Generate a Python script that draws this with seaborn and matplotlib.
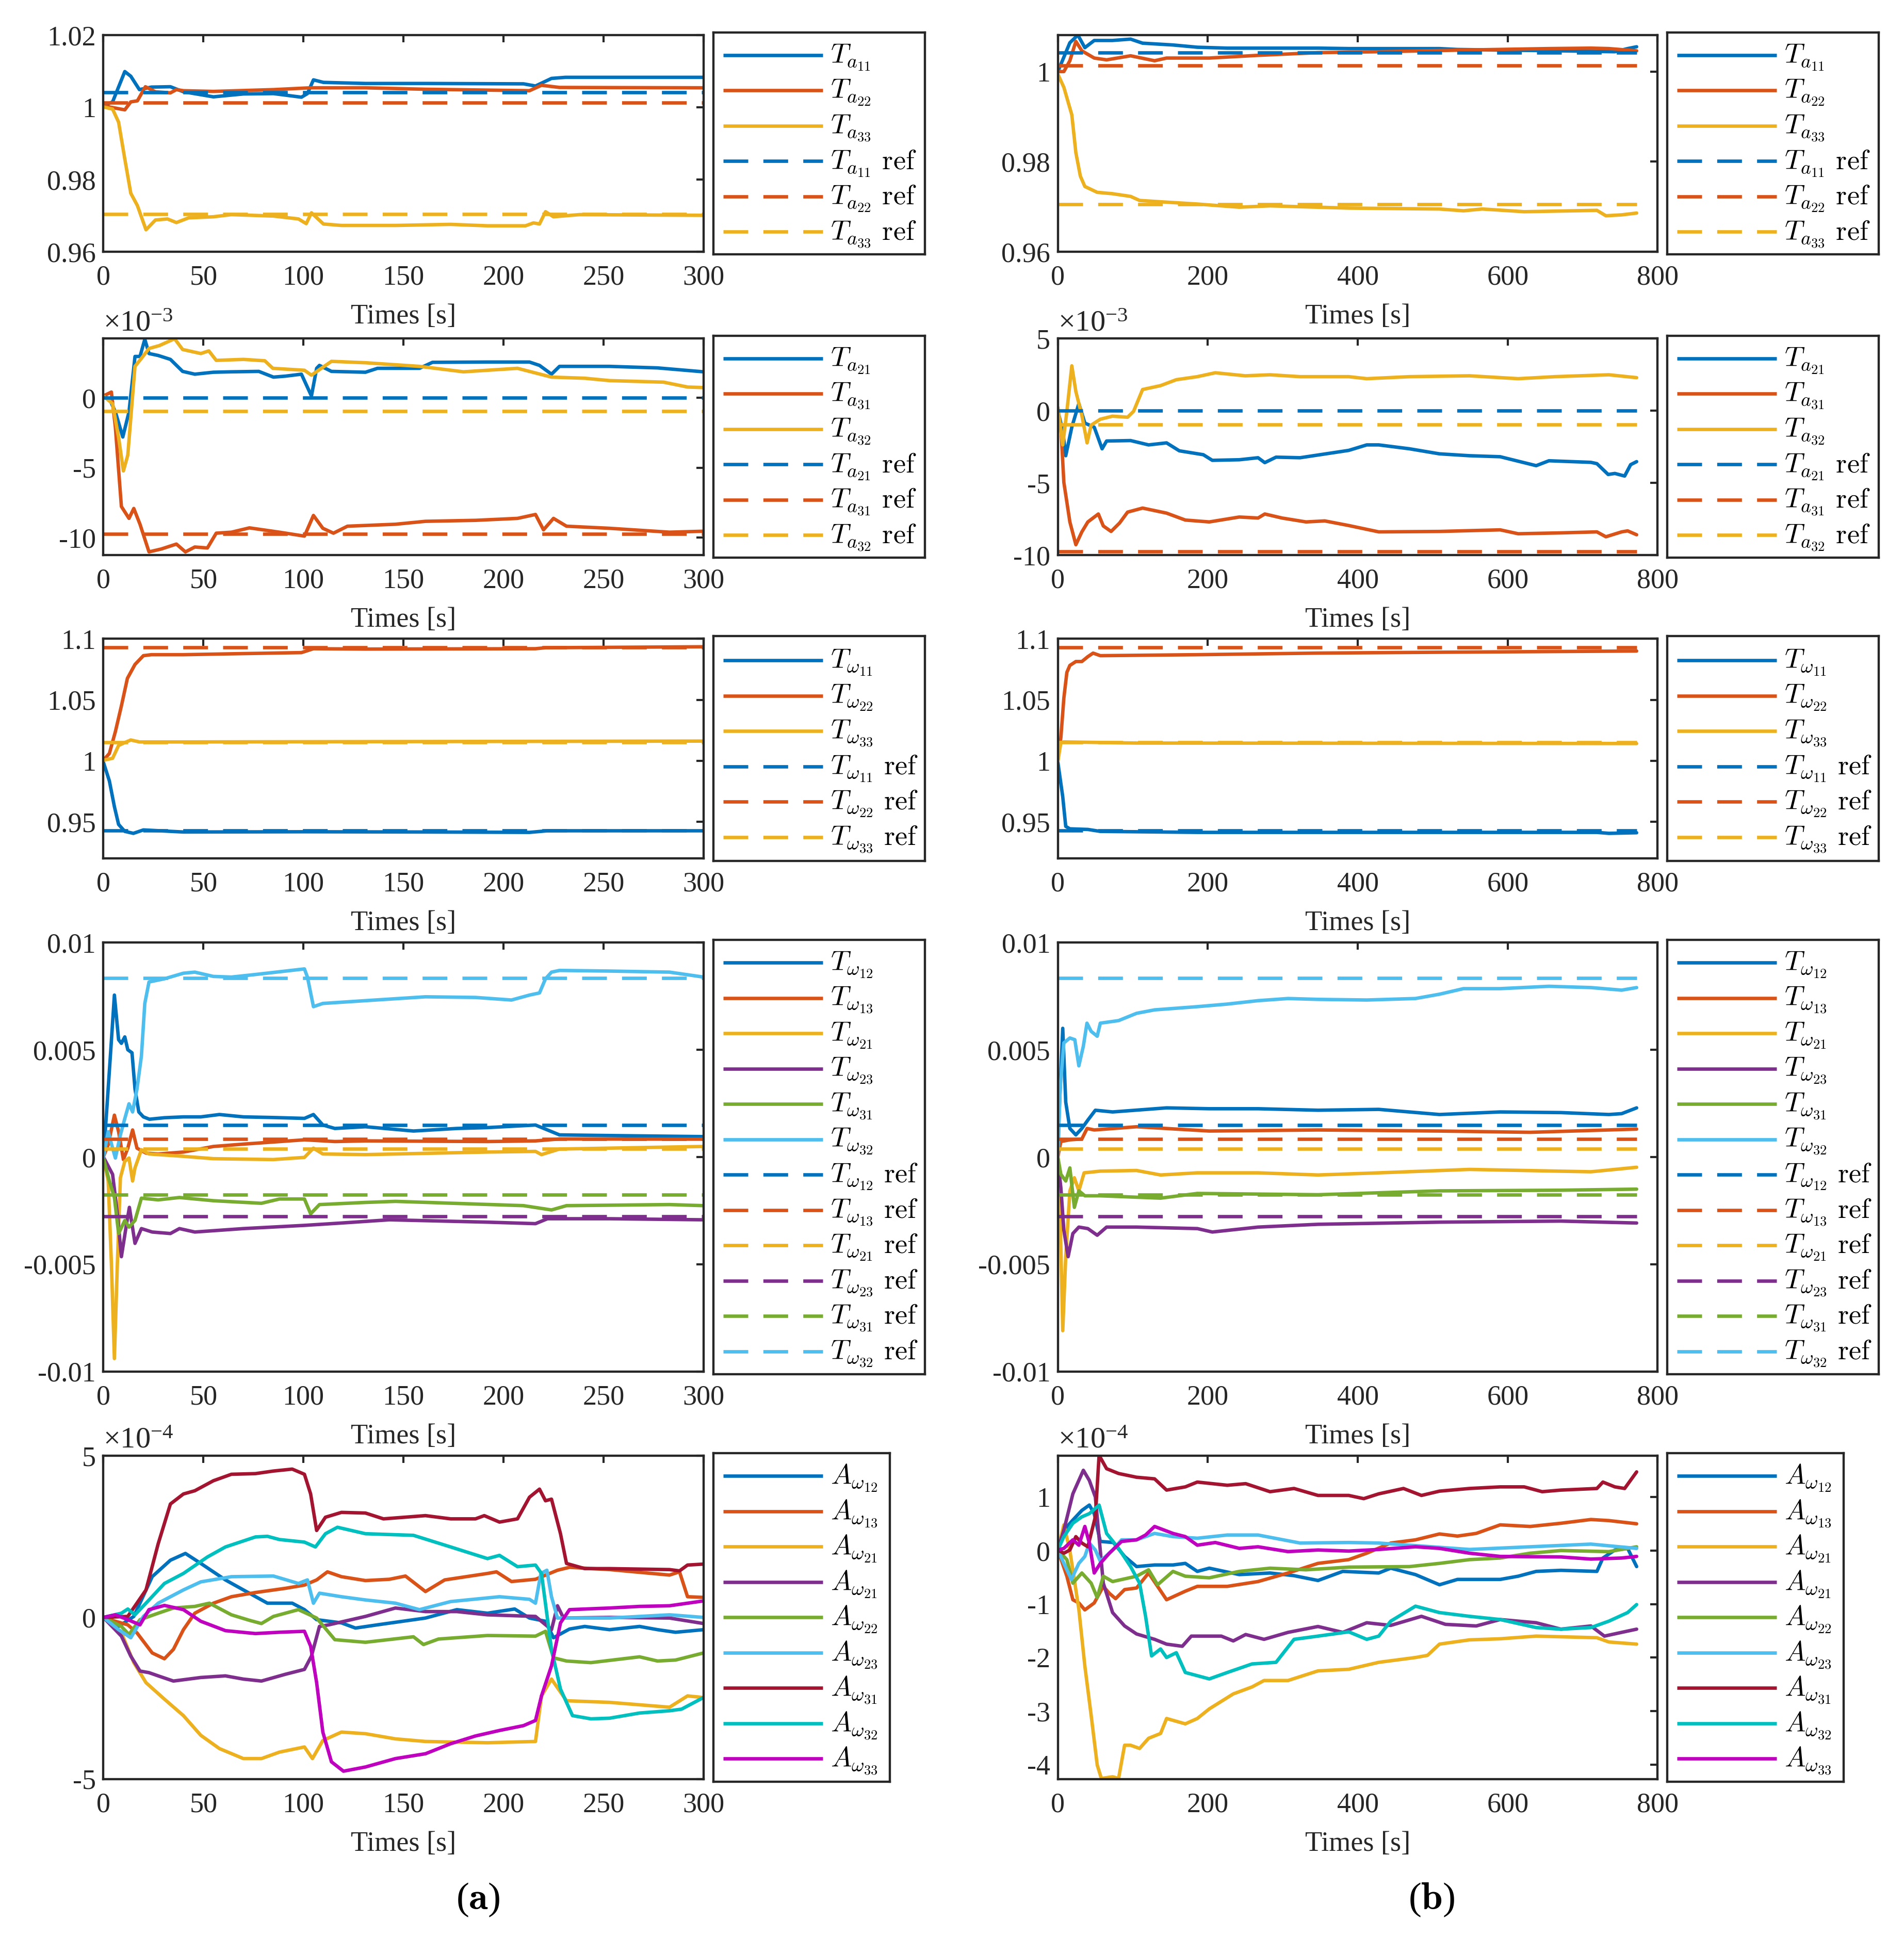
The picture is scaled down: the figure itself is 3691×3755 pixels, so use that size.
import numpy as np
import matplotlib
matplotlib.use("Agg")
import matplotlib.pyplot as plt
import seaborn as sns

# ---------------- data ----------------
T_END_A = 300
T_END_B = 772

# Row 1 : Ta diagonal
TA11_A = [(0,1.0004),(4.6,1.0015),(10.7,1.0099),(13.7,1.0086),(18,1.0049),(24,1.0056),(33.5,1.0057),(40,1.0043),(55,1.0029),(70,1.0037),(85,1.0038),(99,1.0028),(102,1.0038),(105,1.0076),(110,1.0069),(131,1.0066),(161,1.0066),(210,1.0065),(216,1.0059),(224,1.0080),(231,1.0083),(300,1.0083)]
TA22_A = [(0,1.0004),(10.7,0.9993),(13.7,1.0015),(17,1.0018),(21,1.0057),(26,1.0043),(33.5,1.004),(36.5,1.0049),(40,1.0046),(55,1.0044),(85,1.0049),(103.5,1.0054),(131,1.0054),(161,1.005),(213,1.0046),(219,1.0061),(228,1.0055),(300,1.0054)]
TA33_A = [(0,1.0001),(4.6,0.9995),(7.6,0.9959),(10.7,0.9857),(13.7,0.9762),(17,0.9728),(21.3,0.9661),(26,0.9688),(32,0.9691),(36.5,0.9681),(42.6,0.9694),(55,0.9697),(64,0.9703),(85,0.9699),(97.5,0.9691),(101.4,0.9678),(104,0.9708),(110,0.9677),(119,0.9673),(146,0.9673),(173.6,0.9676),(192,0.9672),(211,0.9672),(215,0.968),(218,0.9677),(221,0.9711),(225,0.9697),(238,0.9703),(300,0.9701)]
TA11_B = [(0,1.0),(16,1.0064),(26.7,1.0081),(36,1.0053),(48.5,1.0069),(72.7,1.0069),(97,1.0072),(113,1.0063),(153.5,1.0059),(186,1.0054),(226,1.0052),(347,1.0052),(388,1.0051),(509,1.0051),(533,1.0049),(671,1.0046),(743,1.0044),(760,1.0051),(772,1.0055)]
TA22_B = [(0,1.0),(8,1.0),(16,1.0024),(24,1.0067),(32,1.0046),(48.5,1.003),(65,1.0026),(97,1.0035),(129,1.0024),(145,1.003),(202,1.003),(267,1.0036),(347,1.0042),(428,1.0044),(549,1.0048),(655,1.0051),(711,1.0052),(735,1.0051),(772,1.0046)]
TA33_B = [(0,0.9994),(8,0.9965),(18.6,0.9904),(24,0.982),(30,0.9768),(36,0.9745),(52.5,0.9732),(72.7,0.9729),(97,0.9723),(109,0.9714),(137,0.9711),(186,0.9706),(242,0.9699),(283,0.9702),(388,0.9697),(509,0.9695),(541,0.9691),(566,0.9695),(622,0.9689),(719,0.9692),(731,0.968),(752,0.9682),(772,0.9686)]
TA_DIAG_REF = [1.0042, 1.0013, 0.9705]

# Row 2 : Ta off-diagonal (x 1e-3)
TA21_A = [(0,0.14),(3,-0.07),(6,-1.0),(9.7,-2.8),(12.8,-1.0),(15.8,2.97),(18.3,2.97),(20.7,4.2),(22.8,3.18),(27.4,3.04),(33.5,2.76),(39.6,1.9),(45.7,1.7),(55,1.84),(64,1.87),(77.7,1.9),(85,1.49),(91,1.56),(99,1.7),(104,0.14),(106.6,2.12),(108,2.33),(114,1.9),(131,1.84),(137,2.12),(158,2.12),(164.5,2.55),(192,2.57),(213,2.57),(218,2.33),(224,1.7),(228,2.26),(253,2.26),(277,2.15),(300,1.87)]
TA31_A = [(0,0.14),(4,0.42),(6,-2.12),(9,-7.78),(12.8,-8.63),(15.2,-7.92),(18.3,-9.05),(22.8,-11.03),(29,-10.82),(36.5,-10.47),(41,-11.03),(45.7,-10.68),(52,-10.75),(56.4,-9.69),(64,-9.62),(73,-9.31),(88,-9.62),(100.5,-9.9),(105,-8.42),(109.7,-9.34),(115,-9.69),(122,-9.19),(146,-9.05),(161,-8.84),(186,-8.77),(207,-8.63),(216,-8.35),(220,-9.45),(225,-8.63),(231.5,-9.19),(253,-9.34),(283,-9.62),(300,-9.55)]
TA32_A = [(0,0.14),(4.6,-0.42),(7.6,-2.83),(10,-5.23),(12.2,-4.1),(15.8,2.26),(19,2.83),(22.8,3.54),(28,3.75),(35.6,4.24),(39.6,3.47),(48.7,3.18),(52.7,3.37),(56.4,2.69),(70,2.76),(80.7,2.66),(84.7,2.12),(100.5,1.98),(104,1.63),(114,2.62),(131,2.52),(158,2.26),(180,1.87),(207,2.12),(224,1.49),(240.6,1.41),(253,1.24),(280,1.13),(292,0.78),(300,0.74)]
TA21_B = [(0,0),(6.5,-1.4),(10.5,-3.12),(18.6,-1.14),(28,0.5),(36,-0.86),(48.5,-1.14),(59,-2.64),(65,-2.1),(97,-2.07),(121,-2.37),(145,-2.23),(162,-2.78),(194,-3.05),(206,-3.44),(242,-3.4),(267,-3.26),(276,-3.6),(291,-3.22),(323,-3.26),(388,-2.75),(412,-2.37),(428,-2.37),(469,-2.64),(509,-2.99),(549,-3.12),(590,-3.19),(638,-3.81),(655,-3.47),(711,-3.58),(719,-3.67),(734,-4.42),(743,-4.35),(756,-4.53),(764,-3.74),(772,-3.53)]
TA31_B = [(0,0),(4,-1.14),(8,-4.97),(16,-7.71),(24,-9.29),(32,-8.4),(40,-7.71),(54,-7.16),(60.6,-7.99),(71,-8.37),(82.4,-7.78),(93,-7.03),(113,-6.75),(145,-7.1),(170,-7.58),(202,-7.71),(242,-7.37),(267,-7.44),(276,-7.16),(299,-7.44),(331,-7.71),(356,-7.64),(388,-7.96),(428,-8.4),(509,-8.37),(590,-8.26),(614,-8.53),(671,-8.47),(719,-8.4),(731,-8.74),(752,-8.4),(760,-8.33),(772,-8.6)]
TA32_B = [(0,0.23),(6.5,-2.37),(12,-0.04),(18.6,3.11),(24,1.33),(32,-0.32),(39,-2.23),(44.4,-1.0),(56.6,-0.59),(72.7,-0.38),(93,-0.45),(101,-0.04),(113,1.47),(137,1.74),(158,2.15),(186,2.36),(210,2.63),(250,2.42),(283,2.49),(323,2.36),(388,2.36),(412,2.22),(469,2.36),(549,2.42),(614,2.22),(663,2.36),(735,2.49),(772,2.29)]
TA_OFF_REF = [0.0, -9.76, -0.95]

# Row 3 : Tw diagonal
TW11_A = [(0,0.9989),(3,0.9835),(5.5,0.9625),(7.6,0.9479),(10.7,0.9422),(15,0.9406),(20,0.9434),(40,0.9417),(100.5,0.9419),(161,0.9417),(213,0.9414),(222,0.9427),(300,0.9427)]
TW22_A = [(0,1.0005),(3,1.0061),(6,1.024),(9,1.045),(12,1.0676),(15.8,1.079),(20,1.0862),(24,1.087),(40,1.087),(70,1.0879),(99,1.0887),(105,1.0919),(131,1.0916),(216,1.0919),(221,1.0927),(300,1.0935)]
TW33_A = [(0,1.0005),(4.6,1.0021),(7.6,1.0126),(10.7,1.015),(13.7,1.0171),(18,1.0155),(40,1.0155),(300,1.0162)]
TW11_B = [(0,0.9989),(6.5,0.9706),(10.5,0.9463),(16,0.9443),(40,0.9438),(56.6,0.9422),(186,0.9414),(719,0.9414),(735,0.9406),(772,0.9411)]
TW22_B = [(0,1.0005),(4,1.0191),(8,1.0515),(12,1.0725),(16,1.0782),(24,1.0814),(32,1.0814),(40,1.0854),(47,1.0883),(56.6,1.0862),(186,1.087),(347,1.0883),(509,1.089),(772,1.09)]
TW33_B = [(0,0.9997),(4,1.015),(8,1.0155),(105,1.0146),(772,1.0142)]
TW_DIAG_REF = [0.943, 1.093, 1.015]

# Row 4 : Tw off-diagonal (x 1e-3)
TW12_A = [(0,0),(1.5,1.95),(3.7,5.0),(5.5,7.55),(7.6,5.47),(9,5.3),(10.7,5.6),(12.2,5.0),(14.3,4.86),(15.8,3.17),(17.7,2.1),(20,1.87),(23,1.76),(30.5,1.83),(40,1.87),(48.7,1.87),(58,1.98),(70,1.87),(85,1.84),(100.5,1.8),(105,1.98),(109.7,1.49),(115.7,1.33),(131,1.41),(155,1.21),(176.7,1.33),(192,1.37),(216,1.49),(228,1.03),(253,1.0),(300,0.95)]
TW13_A = [(0,0),(2.4,0.57),(5.5,1.95),(7.6,1.18),(10,-0.12),(12.2,0.41),(14.6,1.26),(16.8,0.41),(21.3,0.18),(27.4,0.14),(40,0.23),(55,0.49),(70,0.6),(100.5,0.8),(115.7,0.72),(131,0.75),(192,0.72),(216,0.75),(228,0.84),(300,0.83)]
TW21_A = [(0,0),(2.4,-1.12),(4,-4.95),(5.5,-9.4),(7,-4.95),(8.5,-0.97),(10.7,-0.2),(12.8,-0.05),(14.6,-1.12),(15.8,-0.51),(19,0.34),(22.8,0.14),(40,0.03),(55,-0.08),(85,-0.12),(100.5,-0.02),(105,0.41),(109.7,0.14),(131,0.11),(192,0.23),(216,0.26),(219,0.11),(228,0.37),(300,0.49)]
TW23_A = [(0,0),(4.6,-0.81),(7,-2.65),(9,-4.65),(11.6,-3.11),(13,-2.35),(15.8,-4.03),(19,-3.34),(24.4,-3.5),(33.5,-3.57),(38,-3.34),(45.7,-3.5),(70,-3.34),(100.5,-3.19),(119,-3.08),(143,-2.93),(192,-3.04),(216,-3.11),(222,-2.88),(253,-2.88),(300,-2.93)]
TW31_A = [(0,-0.05),(3,-1.12),(5.5,-1.89),(7.6,-3.57),(10.7,-2.96),(12.8,-3.27),(15.8,-2.96),(19,-1.92),(27.4,-2.0),(38,-1.89),(55,-2.04),(79,-2.16),(88,-1.96),(100.5,-1.96),(103.6,-2.65),(108,-2.22),(131,-2.12),(146,-2.07),(210,-2.27),(224,-2.47),(231.5,-2.27),(283,-2.22),(300,-2.27)]
TW32_A = [(0,0),(2.4,1.18),(4.6,0.41),(6,-0.05),(8.5,1.03),(10.7,1.79),(12.8,2.48),(14.6,2.1),(16.8,3.17),(19,4.7),(20.7,7.16),(22.8,8.16),(30.5,8.31),(40,8.57),(45.7,8.62),(55,8.42),(64,8.39),(76,8.51),(100.5,8.77),(102,8.39),(105,7.01),(109.7,7.16),(131,7.29),(161,7.47),(186,7.44),(204,7.32),(213,7.55),(218,7.65),(221,8.31),(224,8.62),(228,8.7),(253,8.67),(283,8.62),(300,8.39)]
TW12_B = [(0,0),(1.6,1.95),(6.5,6.0),(10.5,2.56),(16,1.33),(24,1.03),(32,1.33),(40,1.72),(50,2.18),(73,2.1),(145,2.29),(202,2.25),(267,2.25),(347,2.18),(428,2.22),(509,1.98),(590,2.1),(671,2.07),(735,1.98),(752,2.02),(772,2.29)]
TW13_B = [(0,0),(4,0.72),(16,0.8),(32,0.84),(39,1.33),(48.5,1.26),(105,1.41),(202,1.21),(347,1.26),(509,1.21),(630,1.15),(772,1.3)]
TW21_B = [(0,0),(3,-2.65),(6.5,-8.1),(10.5,-4.65),(16,-1.58),(22,-0.97),(28,-1.58),(35,-0.74),(56.6,-0.66),(105,-0.63),(137,-0.84),(186,-0.74),(267,-0.74),(347,-0.84),(428,-0.74),(549,-0.58),(711,-0.69),(772,-0.48)]
TW23_B = [(0,-0.2),(4,-1.43),(8,-3.42),(13.7,-4.65),(20,-3.57),(28,-3.27),(40,-3.34),(52.5,-3.65),(65,-3.27),(105,-3.27),(186,-3.34),(206,-3.5),(267,-3.27),(347,-3.14),(509,-3.04),(671,-2.99),(772,-3.08)]
TW31_B = [(0,0),(4,-0.81),(10.5,-1.12),(16,-0.51),(22,-2.35),(28,-1.58),(36,-1.81),(56.6,-1.81),(137,-1.92),(186,-1.7),(347,-1.76),(509,-1.58),(671,-1.55),(772,-1.5)]
TW32_B = [(0,0),(3,3.17),(8,5.32),(16,5.55),(22.6,5.47),(28,4.25),(34,5.17),(38.8,6.24),(44.4,5.86),(52.5,5.63),(56.6,6.24),(81,6.36),(105,6.7),(129,6.86),(186,7.01),(226,7.13),(267,7.29),(307,7.39),(347,7.35),(412,7.32),(477,7.39),(509,7.59),(541,7.85),(590,7.85),(655,7.96),(711,7.9),(752,7.78),(772,7.9)]
TW_OFF_REF = [1.49, 0.83, 0.38, -2.76, -1.76, 8.34]

# Row 5 : Aw (x 1e-4)
AW12_A = [(0,0),(7.6,-0.28),(15.2,0.03),(24.4,1.26),(33.5,1.77),(41,1.98),(48.7,1.67),(61,1.16),(70,0.85),(82,0.44),(94.4,0.44),(100.5,0.24),(106.6,-0.07),(119,-0.17),(126,-0.33),(137,-0.23),(161,-0.02),(176.7,0.24),(192,0.13),(205.6,0.26),(213,-0.02),(221,-0.12),(225,-0.63),(233,-0.36),(240.6,-0.28),(253,-0.38),(268,-0.28),(277,-0.38),(286,-0.46),(300,-0.38)]
AW13_A = [(0,0),(6,-0.12),(12.2,-0.23),(16.8,-0.48),(24.4,-1.1),(30.5,-1.28),(35,-0.99),(40,-0.38),(45.7,0.13),(55,0.44),(64,0.64),(76,0.77),(91,0.9),(100.5,1.0),(106.6,1.16),(112,1.41),(119,1.26),(131,1.14),(143,1.18),(151,1.28),(161,0.8),(170.6,1.16),(192,1.36),(196.5,1.41),(204,1.11),(216,1.18),(227,1.46),(233,1.55),(253,1.48),(283,1.31),(288,1.41),(292,0.64),(300,0.62)]
AW21_A = [(0,0),(9,-0.48),(15.2,-1.4),(21.3,-2.02),(30.5,-2.53),(40,-3.04),(48.7,-3.65),(58,-4.06),(70,-4.37),(79,-4.37),(88,-4.17),(100.5,-4.01),(104.5,-4.37),(109.7,-3.81),(119,-3.55),(131,-3.6),(146,-3.76),(161,-3.84),(192,-3.88),(216,-3.84),(219,-2.43),(224,-1.91),(231.5,-2.58),(253,-2.63),(283,-2.78),(292,-2.43),(300,-2.48)]
AW21P_A = [(0,0),(9,-0.58),(13.7,-1.2),(18.3,-1.66),(22.8,-1.71),(27.4,-1.81),(35,-1.97),(48.7,-1.86),(61,-1.81),(70,-1.91),(79,-1.97),(91,-1.76),(100.5,-1.61),(104,-1.2),(108,-0.28),(112.7,-0.23),(131,0.03),(146,0.29),(161,0.18),(176.7,0.18),(192,0.08),(216,0.03),(224,-0.38),(227,0.36),(230,-0.02),(253,0),(283,-0.02),(300,-0.19)]
AW22_A = [(0,0),(9,-0.28),(12.8,-0.53),(18.3,-0.07),(27.4,0.13),(35,0.29),(45.7,0.34),(53,0.44),(64,0.08),(73,-0.09),(79,-0.19),(85,0.03),(97.5,0.24),(106.6,-0.02),(115.7,-0.69),(131,-0.77),(155,-0.6),(160,-0.84),(167.5,-0.67),(192,-0.56),(216,-0.58),(221,-0.43),(225,-1.25),(231.5,-1.35),(243.7,-1.4),(268,-1.22),(277,-1.35),(286,-1.32),(300,-1.1)]
AW23_A = [(0,0),(7.6,-0.38),(13.7,-0.63),(20,0.03),(27.4,0.44),(40,0.85),(48.7,1.1),(64,1.26),(85,1.28),(97.5,1.05),(102,1.16),(105,0.44),(108,0.75),(119,0.64),(131,0.54),(146,0.44),(158,0.24),(173.6,0.49),(198,0.64),(213,0.56),(216,0.44),(218.7,1.36),(221.7,1.46),(224,0.64),(227,-0.02),(253,-0.02),(283,0.08),(300,0.0)]
AW31_A = [(0,0),(12.2,0.03),(21.3,0.85),(27.4,2.28),(33.5,3.51),(40,3.82),(45.7,3.92),(55,4.23),(64,4.43),(76,4.45),(85,4.53),(94.4,4.59),(100.5,4.43),(103.6,3.82),(106.6,2.69),(111,3.1),(119,3.25),(131,3.23),(140,3.05),(161,3.15),(173.6,3.05),(186,3.05),(190.4,3.15),(198,2.95),(207,3.05),(213,3.72),(218,3.97),(221,3.61),(224,3.66),(228.5,2.59),(231.5,1.67),(240.6,1.51),(253,1.51),(283,1.48),(288,1.44),(292,1.62),(300,1.65)]
AW32_A = [(0,0),(9,0.13),(12.2,0.26),(15.8,0.08),(21.3,0.44),(30.5,1.05),(40,1.36),(52,1.87),(61,2.18),(76,2.49),(82,2.51),(88,2.41),(100.5,2.33),(106,2.18),(111,2.59),(117,2.79),(131,2.59),(155,2.54),(173.6,2.18),(192,1.82),(198,1.92),(207,1.57),(216,1.62),(219,1.36),(224,-0.99),(228.5,-2.22),(234.5,-3.04),(243.7,-3.14),(253,-3.12),(268,-2.96),(283,-2.89),(289,-2.84),(300,-2.48)]
AW33_A = [(0,0),(6,0.08),(12.2,-0.07),(18.3,-0.23),(22.8,0.24),(30.5,0.37),(40,0.24),(48.7,-0.12),(61,-0.41),(76,-0.5),(88,-0.46),(100.5,-0.43),(103.6,-0.89),(106.6,-2.02),(109.7,-3.55),(114,-4.47),(120,-4.76),(131,-4.63),(146,-4.37),(161,-4.22),(173.6,-3.91),(186,-3.67),(198,-3.5),(210,-3.35),(216,-3.19),(219,-2.43),(224,-1.5),(228.5,-0.17),(233,0.24),(253,0.29),(268,0.34),(283,0.36),(300,0.51)]
AW12_B = [(0,0.01),(8,0.38),(20,0.57),(32,0.75),(42,0.85),(48.5,0.69),(56.6,0.17),(74,0.15),(89,-0.11),(105,-0.3),(129,-0.27),(153.5,-0.27),(170,-0.24),(186,-0.39),(202,-0.33),(242,-0.45),(283,-0.42),(315,-0.47),(347,-0.56),(380,-0.39),(428,-0.42),(444,-0.33),(477,-0.45),(509,-0.64),(533,-0.54),(590,-0.54),(614,-0.48),(638,-0.39),(671,-0.37),(719,-0.39),(727,-0.14),(743,0.01),(760,0.04),(772,-0.3)]
AW13_B = [(0,0.01),(12,-0.48),(20,-0.92),(28,-0.98),(36,-1.11),(48.5,-0.98),(60.6,-0.67),(68.7,-0.8),(77,-0.9),(89,-0.73),(105,-0.7),(121,-0.42),(133,-0.67),(145,-0.92),(170,-0.76),(186,-0.67),(226,-0.67),(267,-0.58),(307,-0.42),(347,-0.24),(388,-0.17),(412,-0.05),(444,0.14),(477,0.2),(509,0.31),(533,0.27),(558,0.32),(590,0.48),(630,0.45),(671,0.51),(711,0.58),(735,0.56),(772,0.5)]
AW21_B = [(0,0.01),(8,0.48),(16,0),(28,-1.1),(36,-2.16),(44.4,-3.08),(52.5,-4.01),(58,-4.26),(73,-4.23),(81,-4.26),(89,-3.64),(97,-3.64),(109,-3.7),(121,-3.51),(137,-3.42),(145,-3.14),(170,-3.24),(186,-3.14),(202,-2.96),(234,-2.68),(259,-2.55),(275,-2.43),(307,-2.43),(347,-2.25),(388,-2.22),(428,-2.09),(477,-2.0),(493,-1.96),(509,-1.75),(549,-1.67),(590,-1.65),(638,-1.6),(719,-1.63),(735,-1.71),(772,-1.75)]
AW21P_B = [(0,0.01),(8,0.38),(20,1.06),(34,1.5),(42,1.31),(50,1.0),(60.6,-0.61),(73,-1.16),(89,-1.41),(105,-1.56),(129,-1.66),(145,-1.75),(166,-1.79),(178,-1.6),(218,-1.6),(234,-1.69),(250.5,-1.57),(275,-1.66),(307,-1.53),(347,-1.42),(380,-1.53),(412,-1.35),(444,-1.4),(485,-1.23),(517,-1.38),(558,-1.41),(590,-1.29),(638,-1.35),(671,-1.47),(711,-1.41),(729,-1.6),(752,-1.53),(772,-1.47)]
AW22_B = [(0,0.01),(12,-0.17),(20,-0.61),(32,-0.42),(44.4,-0.61),(52.5,-0.88),(60.6,-0.48),(73,-0.58),(105,-0.48),(121,-0.36),(133,-0.64),(153.5,-0.39),(170,-0.48),(202,-0.51),(242,-0.39),(283,-0.33),(331,-0.36),(388,-0.31),(469,-0.3),(509,-0.24),(549,-0.17),(590,-0.14),(630,-0.05),(671,0.0),(735,-0.02),(760,0.04),(772,0.07)]
AW23_B = [(0,0.01),(8,-0.24),(18,-0.54),(28,-0.24),(36,-0.11),(42,0.14),(50,0.01),(56.6,-0.2),(73,0.01),(85,0.2),(105,0.2),(129,0.32),(153.5,0.26),(186,0.23),(226,0.29),(267,0.29),(323,0.14),(388,0.15),(428,0.14),(509,0.06),(549,0.02),(630,0.07),(711,0.12),(772,0.04)]
AW31_B = [(0,0.01),(8,-0.05),(16,0.01),(24,0.26),(32,0.14),(40,0.07),(50,0.63),(55,1.78),(65,1.53),(81,1.44),(105,1.37),(129,1.34),(145,1.13),(170,1.19),(186,1.28),(226,1.22),(250.5,1.25),(283,1.1),(315,1.16),(347,1.03),(388,1.03),(408,0.97),(428,1.06),(461,1.16),(485,1.03),(509,1.11),(549,1.16),(590,1.19),(622,1.19),(646,1.1),(671,1.13),(719,1.16),(727,1.28),(743,1.19),(756,1.16),(772,1.47)]
AW32_B = [(0,0.01),(8,0.26),(20,0.51),(32,0.63),(42,0.69),(55,0.85),(65,0.32),(81,0.04),(97,-0.3),(109,-0.61),(117,-1.23),(125,-1.97),(137,-1.84),(145,-2.0),(158,-1.91),(170,-2.28),(186,-2.34),(202,-2.4),(226,-2.28),(259,-2.12),(291,-2.09),(315,-1.66),(347,-1.6),(388,-1.52),(412,-1.66),(428,-1.6),(444,-1.32),(477,-1.04),(509,-1.16),(549,-1.23),(590,-1.29),(638,-1.44),(671,-1.47),(711,-1.44),(735,-1.32),(760,-1.16),(772,-1.01)]
AW33_B = [(0,0.01),(8,0.04),(20,0.2),(28,0.1),(36,0.45),(42,0.14),(48.5,-0.42),(56.6,-0.24),(68.7,-0.05),(85,0.17),(105,0.2),(117,0.29),(129,0.45),(153.5,0.32),(170,0.26),(186,0.1),(210,0.15),(242,0.04),(267,0.07),(307,-0.02),(347,0.01),(388,-0.01),(428,0.02),(477,0.07),(509,0.04),(549,-0.05),(590,-0.11),(671,-0.12),(711,-0.16),(752,-0.14),(772,-0.11)]

# labels
LAB_TA_DIAG = [r"$T_{a_{11}}$", r"$T_{a_{22}}$", r"$T_{a_{33}}$"]
LAB_TA_OFF = [r"$T_{a_{21}}$", r"$T_{a_{31}}$", r"$T_{a_{32}}$"]
LAB_TW_DIAG = [r"$T_{\omega_{11}}$", r"$T_{\omega_{22}}$", r"$T_{\omega_{33}}$"]
LAB_TW_OFF = [r"$T_{\omega_{12}}$", r"$T_{\omega_{13}}$", r"$T_{\omega_{21}}$",
              r"$T_{\omega_{23}}$", r"$T_{\omega_{31}}$", r"$T_{\omega_{32}}$"]
LAB_AW = [r"$A_{\omega_{12}}$", r"$A_{\omega_{13}}$", r"$A_{\omega_{21}}$", r"$A_{\omega_{21}}$",
          r"$A_{\omega_{22}}$", r"$A_{\omega_{23}}$", r"$A_{\omega_{31}}$", r"$A_{\omega_{32}}$",
          r"$A_{\omega_{33}}$"]

XTICKS_A = [0, 50, 100, 150, 200, 250, 300]
XTICKS_B = [0, 200, 400, 600, 800]

# ---------------- style ----------------
sns.set_theme(style="white")
plt.rcParams.update({
    "font.family": ["Liberation Serif", "DejaVu Serif"],
    "mathtext.fontset": "cm",
    "axes.unicode_minus": False,
    "axes.edgecolor": "#262626",
    "axes.linewidth": 1.05,
    "xtick.color": "#262626",
    "ytick.color": "#262626",
    "xtick.labelcolor": "#262626",
    "ytick.labelcolor": "#262626",
    "text.color": "#262626",
    "axes.labelcolor": "#262626",
})

C_BLUE, C_ORANGE, C_YELLOW = "#0072BD", "#D95319", "#EDB120"
C_PURPLE, C_GREEN, C_LBLUE = "#7E2F8E", "#77AC30", "#4DBEEE"
C_DRED, C_CYAN, C_MAG = "#A2142F", "#00BFBF", "#BF00BF"

LW = 1.6
LW_REF = 1.6
DASH = (0, (7.2, 4.4))
FS = 13

FIG_W, FIG_H = 3691, 3755
fig = plt.figure(figsize=(FIG_W / 300, FIG_H / 300), dpi=300)

COL_AX = {"A": (0.0543, 0.3152), "B": (0.5556, 0.3150)}
COL_LEG = {"A": 0.3747, "B": 0.8756}
LEG_W = 0.1112
LEG_W_SMALL = 0.0926
ROWS = [(0.8700, 0.9819), (0.7135, 0.8252), (0.5568, 0.6702), (0.2920, 0.5134), (0.0816, 0.2484)]


def legend_box(rect, entries):
    lax = fig.add_axes(rect)
    lax.set_xlim(0, 1)
    lax.set_ylim(0, 1)
    lax.set_xticks([])
    lax.set_yticks([])
    for s in lax.spines.values():
        s.set_linewidth(1.05)
        s.set_color("#262626")
    wpx = rect[2] * FIG_W
    hpx = rect[3] * FIG_H
    n = len(entries)
    pitch = 68.5
    m = (hpx - n * pitch) / 2
    x0, x1, xt = 19 / wpx, (19 + 193) / wpx, (19 + 193 + 15) / wpx
    for i, (lab, col, dashed) in enumerate(entries):
        y = 1 - (m + (i + 0.5) * pitch) / hpx
        if dashed:
            lax.plot([x0, x1], [y, y], color=col, lw=LW_REF, linestyle=DASH,
                     dash_capstyle="butt")
        else:
            lax.plot([x0, x1], [y, y], color=col, lw=LW_REF, solid_capstyle="butt")
        lax.text(xt, y - 4 / hpx, lab, ha="left", va="center", fontsize=FS, color="black")


def panel(col, row, series, labels, colors, refs, ylim, yticks, yticklabels, offset=None,
          small_legend=False):
    x0, w = COL_AX[col]
    b, t = ROWS[row]
    ax = fig.add_axes([x0, b, w, t - b])
    tend = T_END_A if col == "A" else T_END_B
    for data, c in zip(series, colors):
        arr = np.array(data, dtype=float)
        sns.lineplot(x=arr[:, 0], y=arr[:, 1], ax=ax, color=c, linewidth=LW,
                     estimator=None, sort=False, legend=False)
    if refs is not None:
        for val, c in zip(refs, colors):
            ax.plot([0, tend], [val, val], color=c, lw=LW_REF, linestyle=DASH,
                    dash_capstyle="butt")
    ax.set_xlim(0, 300 if col == "A" else 800)
    ax.set_xticks(XTICKS_A if col == "A" else XTICKS_B)
    ax.set_xticklabels([str(v) for v in (XTICKS_A if col == "A" else XTICKS_B)])
    ax.set_ylim(*ylim)
    ax.set_yticks(yticks)
    ax.set_yticklabels(yticklabels)
    ax.tick_params(direction="in", top=True, right=True, length=3.4, width=1.0,
                   labelsize=FS, colors="#262626")
    ax.tick_params(axis="x", pad=6)
    ax.tick_params(axis="y", pad=3.5)
    ax.set_xlabel("Times [s]", fontsize=FS, labelpad=6, color="#262626")
    ax.set_ylabel("")
    ax.grid(False)
    for s in ax.spines.values():
        s.set_linewidth(1.05)
        s.set_color("#262626")
    if offset:
        ax.text(0.0, 1.006, offset, transform=ax.transAxes, ha="left", va="bottom",
                fontsize=14, color="#262626")
    entries = [(lab, c, False) for lab, c in zip(labels, colors)]
    if refs is not None:
        entries += [(lab[:-1] + r"\ \mathrm{ref}$", c, True) for lab, c in zip(labels, colors)]
    lw_ = LEG_W_SMALL if small_legend else LEG_W
    pad = 5 / FIG_H
    legend_box([COL_LEG[col], b - pad, lw_, (t - b) + 2 * pad], entries)
    return ax


C3 = [C_BLUE, C_ORANGE, C_YELLOW]
C6 = [C_BLUE, C_ORANGE, C_YELLOW, C_PURPLE, C_GREEN, C_LBLUE]
C9 = [C_BLUE, C_ORANGE, C_YELLOW, C_PURPLE, C_GREEN, C_LBLUE, C_DRED, C_CYAN, C_MAG]
OFF3 = r"$\mathdefault{\times10^{-3}}$"
OFF4 = r"$\mathdefault{\times10^{-4}}$"

# column (a)
panel("A", 0, [TA11_A, TA22_A, TA33_A], LAB_TA_DIAG, C3, TA_DIAG_REF,
      (0.96, 1.02), [0.96, 0.98, 1.0, 1.02], ["0.96", "0.98", "1", "1.02"])
panel("A", 1, [TA21_A, TA31_A, TA32_A], LAB_TA_OFF, C3, TA_OFF_REF,
      (-11.25, 4.25), [-10, -5, 0], ["-10", "-5", "0"], offset=OFF3)
panel("A", 2, [TW11_A, TW22_A, TW33_A], LAB_TW_DIAG, C3, TW_DIAG_REF,
      (0.92, 1.1), [0.95, 1.0, 1.05, 1.1], ["0.95", "1", "1.05", "1.1"])
panel("A", 3, [TW12_A, TW13_A, TW21_A, TW23_A, TW31_A, TW32_A], LAB_TW_OFF, C6, TW_OFF_REF,
      (-10, 10), [-10, -5, 0, 5, 10], ["-0.01", "-0.005", "0", "0.005", "0.01"])
panel("A", 4, [AW12_A, AW13_A, AW21_A, AW21P_A, AW22_A, AW23_A, AW31_A, AW32_A, AW33_A],
      LAB_AW, C9, None, (-5, 5), [-5, 0, 5], ["-5", "0", "5"], offset=OFF4, small_legend=True)

# column (b)
panel("B", 0, [TA11_B, TA22_B, TA33_B], LAB_TA_DIAG, C3, TA_DIAG_REF,
      (0.96, 1.0081), [0.96, 0.98, 1.0], ["0.96", "0.98", "1"])
panel("B", 1, [TA21_B, TA31_B, TA32_B], LAB_TA_OFF, C3, TA_OFF_REF,
      (-10, 5), [-10, -5, 0, 5], ["-10", "-5", "0", "5"], offset=OFF3)
panel("B", 2, [TW11_B, TW22_B, TW33_B], LAB_TW_DIAG, C3, TW_DIAG_REF,
      (0.92, 1.1), [0.95, 1.0, 1.05, 1.1], ["0.95", "1", "1.05", "1.1"])
panel("B", 3, [TW12_B, TW13_B, TW21_B, TW23_B, TW31_B, TW32_B], LAB_TW_OFF, C6, TW_OFF_REF,
      (-10, 10), [-10, -5, 0, 5, 10], ["-0.01", "-0.005", "0", "0.005", "0.01"])
panel("B", 4, [AW12_B, AW13_B, AW21_B, AW21P_B, AW22_B, AW23_B, AW31_B, AW32_B, AW33_B],
      LAB_AW, C9, None, (-4.27, 1.77), [-4, -3, -2, -1, 0, 1],
      ["-4", "-3", "-2", "-1", "0", "1"], offset=OFF4, small_legend=True)

fig.text(0.251, 0.0190, r"($\mathbf{a}$)", ha="center", va="center", fontsize=18, color="black")
fig.text(0.752, 0.0190, r"($\mathbf{b}$)", ha="center", va="center", fontsize=18, color="black")

fig.savefig("out.png", dpi=300)
